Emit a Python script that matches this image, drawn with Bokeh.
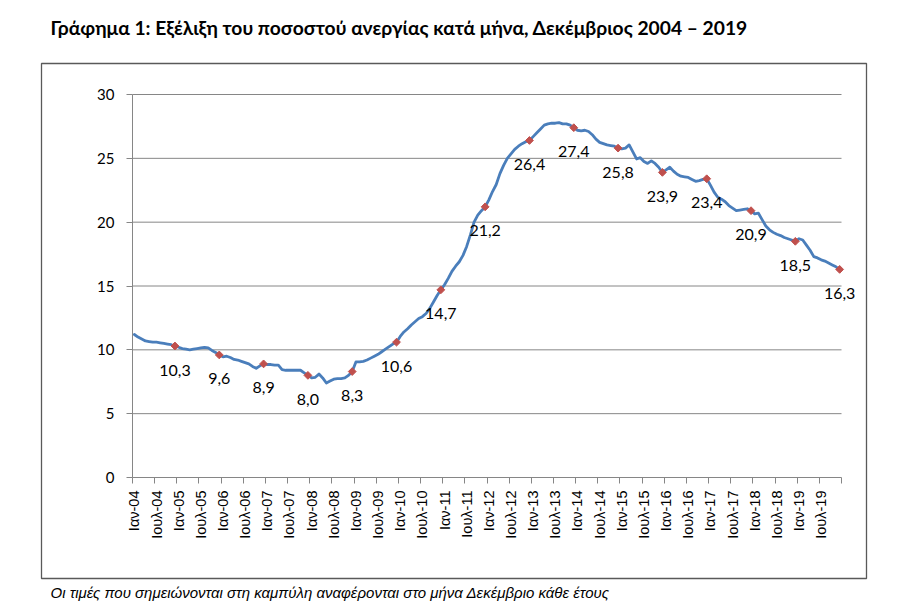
import math
from bokeh.plotting import figure
from bokeh.models import FixedTicker, Label, LabelSet, BoxAnnotation, ColumnDataSource
from bokeh.embed import file_html
from bokeh.resources import INLINE
from bokeh.core.properties import value

# ---- data (monthly unemployment rate, %, Jan 2004 - Dec 2019) ----
u2004 = [11.2, 11.0, 10.85, 10.7, 10.65, 10.6, 10.6, 10.55, 10.5, 10.45, 10.4, 10.3]
u2005 = [10.2, 10.1, 10.05, 10.0, 10.05, 10.1, 10.15, 10.2, 10.15, 9.95, 9.8, 9.6]
u2006 = [9.45, 9.5, 9.4, 9.25, 9.2, 9.1, 9.0, 8.9, 8.7, 8.55, 8.75, 8.9]
u2007 = [8.85, 8.85, 8.8, 8.8, 8.45, 8.4, 8.4, 8.4, 8.4, 8.4, 8.2, 8.0]
u2008 = [7.8, 7.85, 8.1, 7.8, 7.4, 7.55, 7.7, 7.75, 7.75, 7.8, 8.0, 8.3]
u2009 = [9.05, 9.05, 9.1, 9.2, 9.35, 9.5, 9.65, 9.85, 10.05, 10.25, 10.45, 10.6]
u2010 = [11.05, 11.4, 11.65, 11.95, 12.2, 12.45, 12.6, 12.85, 13.25, 13.75, 14.25, 14.7]
u2011 = [15.1, 15.6, 16.15, 16.55, 16.9, 17.4, 18.1, 19.0, 20.0, 20.55, 20.9, 21.2]
u2012 = [21.75, 22.4, 22.95, 23.8, 24.45, 25.0, 25.35, 25.7, 25.95, 26.15, 26.3, 26.4]
u2013 = [26.7, 27.0, 27.3, 27.6, 27.7, 27.75, 27.75, 27.8, 27.7, 27.7, 27.6, 27.4]
u2014 = [27.2, 27.15, 27.2, 27.1, 26.85, 26.5, 26.25, 26.15, 26.05, 26.0, 25.95, 25.8]
u2015 = [25.75, 25.8, 26.05, 25.5, 24.95, 25.05, 24.75, 24.6, 24.8, 24.6, 24.3, 23.9]
u2016 = [24.1, 24.3, 24.0, 23.75, 23.6, 23.55, 23.5, 23.35, 23.2, 23.25, 23.35, 23.4]
u2017 = [22.9, 22.35, 21.95, 21.8, 21.6, 21.3, 21.1, 20.9, 20.95, 21.0, 21.05, 20.9]
u2018 = [20.65, 20.7, 20.2, 19.7, 19.4, 19.2, 19.05, 18.95, 18.8, 18.7, 18.6, 18.5]
u2019 = [18.7, 18.6, 18.2, 17.8, 17.3, 17.2, 17.05, 16.95, 16.8, 16.65, 16.5, 16.3]

tick_labels = ["Ιαν-04", "Ιουλ-04", "Ιαν-05", "Ιουλ-05", "Ιαν-06", "Ιουλ-06",
               "Ιαν-07", "Ιουλ-07", "Ιαν-08", "Ιουλ-08", "Ιαν-09", "Ιουλ-09",
               "Ιαν-10", "Ιουλ-10", "Ιαν-11", "Ιουλ-11", "Ιαν-12", "Ιουλ-12",
               "Ιαν-13", "Ιουλ-13", "Ιαν-14", "Ιουλ-14", "Ιαν-15", "Ιουλ-15",
               "Ιαν-16", "Ιουλ-16", "Ιαν-17", "Ιουλ-17", "Ιαν-18", "Ιουλ-18",
               "Ιαν-19", "Ιουλ-19"]
y_ticks = [0, 5, 10, 15, 20, 25, 30]

title_text = "Γράφημα 1: Εξέλιξη του ποσοστού ανεργίας κατά μήνα, Δεκέμβριος 2004 – 2019"
note_text = "Οι τιμές που σημειώνονται στη καμπύλη αναφέρονται στο μήνα Δεκέμβριο κάθε έτους"

years = [u2004, u2005, u2006, u2007, u2008, u2009, u2010, u2011,
         u2012, u2013, u2014, u2015, u2016, u2017, u2018, u2019]
rates = [v for yr in years for v in yr]
n = len(rates)
XMAX = 2 * n                        # x unit = half a month
xs = [2 * i + 1 for i in range(n)]  # month i at the centre of its category
dec_x = [2 * (12 * k + 11) + 1 for k in range(len(years))]
dec_y = [yr[11] for yr in years]
dec_lab = [("%.1f" % v).replace(".", ",") for v in dec_y]

# ---- layout (pixels of the 900x606 canvas) ----
W, H = 900, 606
PL, PR, PT, PB = 132, 841, 94, 477      # plot area: x=0..XMAX, y=0..30
SX = (PR - PL) / XMAX
SY = (PB - PT) / 30.0


def dx(px):
    return (px - PL) / SX


def dy(py):
    return (PB - py) / SY


GREY = "#868686"

p = figure(width=W, height=H, output_backend="svg", toolbar_location=None,
           x_range=(dx(0), dx(W)), y_range=(dy(H), dy(0)), min_border=0)
p.outline_line_color = None
p.background_fill_color = "white"
p.border_fill_color = "white"
p.xgrid.visible = False
p.ygrid.visible = False

# outer frame box
p.add_layout(BoxAnnotation(left=dx(41), right=dx(866), top=dy(63), bottom=dy(578),
                           fill_color=None, fill_alpha=0, line_color="#595959",
                           line_alpha=1.0, line_width=1.3, level="underlay"))

# horizontal gridlines across the plot area only
grid_y = y_ticks[1:]
p.segment(x0=[0] * len(grid_y), x1=[XMAX] * len(grid_y), y0=grid_y, y1=grid_y,
          line_color=GREY, line_width=1, level="underlay")

# y axis
p.yaxis.fixed_location = 0
p.yaxis.bounds = (0, 30)
p.yaxis.ticker = FixedTicker(ticks=y_ticks)
p.yaxis.axis_line_color = GREY
p.yaxis.major_tick_line_color = GREY
p.yaxis.major_tick_out = 6
p.yaxis.major_tick_in = 0
p.yaxis.minor_tick_line_color = None
p.yaxis.major_label_standoff = 12
p.yaxis.major_label_text_font = "Lato"
p.yaxis.major_label_text_font_size = "15px"
p.yaxis.major_label_text_color = "black"

# x axis: labels at category centres, tick marks at 6-month boundaries
centers = [12 * k + 1 for k in range(len(tick_labels))]
bounds = [12 * k for k in range(len(tick_labels) + 1)]
p.xaxis.fixed_location = 0
p.xaxis.bounds = (0, XMAX)
p.xaxis.ticker = FixedTicker(ticks=centers, minor_ticks=bounds)
p.xaxis.major_label_overrides = {c: t for c, t in zip(centers, tick_labels)}
p.xaxis.major_tick_out = 0
p.xaxis.major_tick_in = 0
p.xaxis.minor_tick_out = 6
p.xaxis.minor_tick_in = 0
p.xaxis.minor_tick_line_color = GREY
p.xaxis.axis_line_color = GREY
p.xaxis.major_label_orientation = math.pi / 2
p.xaxis.major_label_standoff = 7
p.xaxis.major_label_text_font = "Liberation Sans"
p.xaxis.major_label_text_font_size = "14.5px"
p.xaxis.major_label_text_color = "black"

# series
p.line(xs, rates, line_color="#4A7EBB", line_width=2.8, line_join="round", line_cap="round")
p.scatter(dec_x, dec_y, marker="square", angle=math.pi / 4, size=5.5,
          fill_color="#C0504D", line_color="#C0504D")

src = ColumnDataSource(dict(x=dec_x, y=dec_y, label=dec_lab))
p.add_layout(LabelSet(x="x", y="y", text="label", source=src, y_offset=-24,
                      text_align="center", text_baseline="middle",
                      text_font=value("Lato"), text_font_size="16px",
                      text_color="black"))

# title and footnote
p.add_layout(Label(x=dx(50), y=dy(27), text=title_text,
                   text_font="Lato", text_font_style="bold", text_font_size="19.25px",
                   text_color="black", text_baseline="alphabetic", text_align="left"))
p.add_layout(Label(x=dx(50), y=dy(592), text=note_text,
                   text_font="Liberation Sans", text_font_style="italic",
                   text_font_size="15px", text_color="black",
                   text_baseline="alphabetic", text_align="left"))

open("out.html", "w").write(file_html(p, INLINE))
